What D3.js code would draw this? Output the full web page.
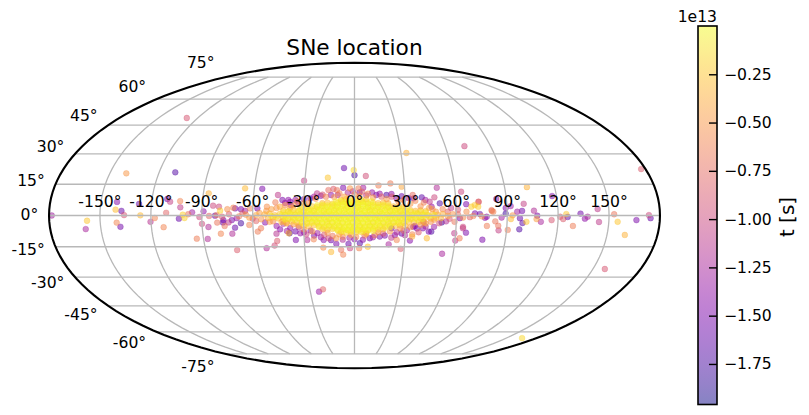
<!DOCTYPE html>
<html>
<head>
<meta charset="utf-8">
<script src="https://cdnjs.cloudflare.com/ajax/libs/d3/7.8.5/d3.min.js"></script>
<style>
  html, body { margin: 0; padding: 0; background: #fff; }
  svg { display: block; }
  text { font-family: "DejaVu Sans", sans-serif; fill: #000; }
  .grid { fill: none; stroke: #b8b8b8; stroke-width: 1.3; }
  .cbar .domain { display: none; }
  .cbar line { stroke: #000; stroke-width: 1.4; }
  .cbar text { font-size: 15.6px; font-family: "DejaVu Sans", sans-serif; }
</style>
</head>
<body>
<svg id="chart" width="809" height="415"></svg>
<script>
const TITLE = 'SNe location'
const CBAR_LABEL = 't [s]'
const CBAR_EXPONENT = '1e13'
const LON_TICKS = [-150, -120, -90, -60, -30, 0, 30, 60, 90, 120, 150]
const LAT_TICKS = [-75, -60, -45, -30, -15, 0, 15, 30, 45, 60, 75]
const CBAR_TICKS = [-0.25, -0.5, -0.75, -1, -1.25, -1.5, -1.75]
const T_DOMAIN = [-1.96, 0]

// [lon, lat, t in 1e13 s]
const sneFar = [
  [72.7,33.9,-1],[33.5,30.4,-.35],[-6.5,22.9,-1.6],[-.5,21.9,-.15],[0,19.4,-1.75],[6.9,19,-.95],
  [-16.2,18.2,-.25],[-30.5,16.7,-1.05],[14.4,14.4,-.65],[21.6,15.4,-.65],[28.3,13.8,-.4],[49.3,13.3,-1.2],
  [63.6,11.4,-1],[-65.5,13,-.3],[-55.2,12.8,-1.5],[-45.5,9.8,-1.1],[76.3,-11.6,-1.5],[53.3,-18.4,-1.25],
  [43.1,-10.9,-.3],[27.9,-16,-.85],[20.5,-13.8,-1.25],[8,-15,-.25],[-6.9,-18.8,-.6],[-14.2,-17.5,-.3],
  [-8.1,-16.5,-.7],[-18.8,-15.4,-.55],[-53,-15.7,-1.2],[-48,-14.4,-.95],[-46.2,-12.2,-.85],[-71,-16.6,-.85],
  [-87.5,-11.2,-1.2],[-24.1,-37.4,-1.35],[-21.2,-36.2,-.8],[165.6,-63.9,-.15],[-128.4,48.9,-.9],
  [-139.9,20.3,-.5],[-110.1,20.8,-1.7],[177.3,22.4,-.85],[157.5,-25.9,-.9],[160.6,-9.3,-.35]
]

const snePlaneWest = [
  [-178.4,0,-1.3],[-157.7,-2.5,-.25],[-159,-6.5,-1.25],[-140.5,6.5,-1.45],[-140.9,2.8,-.3],[-137.4,2.2,-1.6],
  [-135.8,.2,-.9],[-140.3,-3.4,-.6],[-138.3,-5.4,-1.55],[-127.3,5.5,-1.6],[-126.2,.1,-.3],[-120.3,-3,-1.15],
  [-117.7,-1.2,-.6],[-112.8,-5.6,-.6],[-111,1.3,-.8],[-111,7.9,-1.5],[-109.1,6.6,-1.05],[-103.2,6.9,-.6],
  [-102.8,3.9,-1.1],[-103.5,-1.5,-1.6],[-101.2,.4,-.2],[-100.2,-1.2,-.2],[-98,.6,-.7],[-95.7,1.5,-1.3],
  [-94,-11.1,-.65],[-89,2,-1.4],[-91.4,-.7,-1],[-90,-4,-1],[-86.3,-5.5,-1.2],[-86.8,10.6,-.35],[-85.7,-.2,-.8],
  [-83.5,4.7,-1],[-80,4.2,-1],[-81.2,.2,-.65],[-79.2,2.3,-.2],[-81,-3.4,-.7],[-76.7,-5,-.7],[-79.3,-8.7,-.6],
  [-70.6,-5.8,-1.6],[-72.5,-8.7,-1.2],[-77.3,-2.2,-1.5],[-75,3,-.55],[-70.4,3.4,-1.5],[-69.4,-1.3,-1.35],
  [-72.3,-2.2,-1.5],[-71.5,3.7,-.6],[-67,3,-1.5],[-82.2,-.1,-1.6],[-77.6,-3.3,-1.6],[-74.3,-3.3,-1.1],
  [-67,-3.7,-1.75],[-62.1,-4.5,-.6],[-57.3,-7.7,-.65],[-55.3,-6.1,-.65],[-52.7,-3.3,-1.45],[-46.3,-8.7,-1.15],
  [-61.6,3.4,-.6],[-57.3,3.4,-1.5],[-51.7,4.2,-.55],[-46.8,6.3,-.65],[-64,.4,-.5],[-60,-1.5,-.9],[-66,1,-.8],
  [-56,1.2,-.45],[-58,-2.6,-.8],[-62,-1,-.45],[-68,-.4,-.65],[-74,.6,-.85],[-78,-.6,-.9],[-64.5,2.2,-1.3]
]

const snePlaneEast = [
  [92.2,4.5,-1.3],[100,5.6,-1.05],[98.8,2.2,-1.55],[95.9,1.8,-1.3],[89.1,.9,-1.8],[81,2.2,-.7],[93.2,.1,-.5],
  [92.2,-1.7,-.3],[97.5,-1.3,-1.6],[99.1,-3.6,-1.65],[101.4,-3,-.25],[97.5,-6.6,-1.7],[90.7,-6.9,-.65],
  [84.9,-4.9,-.7],[83,-2.8,-.7],[103.4,13.6,-.35],[84,7.9,-1.35],[85.3,-7.1,-1.05],[86.7,-1,-1.3],[76.9,-1.1,-1.4],
  [73.9,.7,-1.6],[78.2,-5,-.65],[80.8,2.6,-.7],[73.5,6.5,-.8],[71,5,-.25],[89.2,3.6,-1.5],[105.8,2.3,-1.2],
  [107.7,-.1,-1.5],[107.3,-1.7,-.45],[109.9,-3,-1.25],[116.2,-2.2,-.9],[117.4,9.3,-1.5],[121.2,-.6,-.85],
  [123,-1.7,-.85],[125.6,-.7,-1.65],[124.8,.7,-.25],[129,-5,-.65],[133.2,.9,-1.55],[135.8,-1.5,-1.4],
  [137.4,-.6,-1.25],[143.4,3.1,-1.1],[144.2,-3.1,-1.1],[153,.6,-.7],[155.2,-3,-.25],[166.2,-2.2,-1.5],
  [173.5,.2,-1],[174.5,-1.3,-1.6],[66,5.4,-1.5],[73.3,6.6,-.85],[69,4.2,-.2],[73,4.2,-.2],[71,1,-1.5],[66,1.8,-.55],
  [62.1,-1.3,-1.5],[77.9,-.6,-1.4],[81.8,1.8,-.6],[64.1,-5.4,-1],[59.2,-8.5,-1.1],[62.6,-10.9,-.65],[60.2,-12,-1.1],
  [64.1,-6.1,-1.1],[66.1,-8.2,-1.5],[58,.6,-.5],[55,1.8,-.8],[61,.5,-.75],[68,-.8,-.8],[56,-1.6,-.9],[64,-1,-.55],
  [59,-3,-.7],[54,-2.8,-1.2],[70,-.2,-.6],[75,-.4,-.5],[52,3,-.6],[57,3.6,-1.1],[61,2.8,-.9]
]

const sneRim = [
  [-6.8,13.3,-1.5],[-2.7,13,-.5],[2.4,13,-.65],[5.2,13.3,-1.3],[-10.5,12.2,-.7],[-12.6,12.7,-.85],[-15.6,12.2,-.75],
  [-14,9.8,-1.4],[13,9.8,-1.5],[19,9.8,-1.7],[24.9,8.2,-1.5],[-22.3,10.6,-1.1],[-26.2,8.2,-1.4],[-42.7,7.4,-1.5],
  [-39.2,7.4,-1.4],[-37.6,5,-1.3],[39.9,8.7,-1.65],[34.6,9.8,-.75],[47.4,8.7,-1],[44.5,6.6,-1.1],[45.5,4.2,-1.35],
  [50.4,5.8,-1.7],[-30,7.8,-1.35],[-19,10,-.9],[-9,10.6,-.6],[-4,11,-1.2],[0,10.2,-.55],[4.5,11.4,-.8],[8,10.4,-.6],
  [10.5,11,-1.35],[16,9,-.8],[22,9,-.9],[29,7.5,-.7],[32,8.4,-1.35],[36,7,-.6],[41,6.2,-.65],[-34,6.8,-.7],[-27,6,-.6],
  [-23,8,-.55],[-17,9,-.6],[-12,8.8,-.5],[-6,9,-.45],[3,9.2,-.5],[11,8.6,-.5],[19,7.8,-.5],[26,6.6,-.5],[33,5.6,-.5],
  [39,4.4,-.55],[46,3,-.5],[-46,3.6,-.55],[-41,5,-.55],[-36,4.8,-.5],[-30,5.8,-.45],

  [-39,-8.5,-.3],[-38.5,-8.5,-1.8],[-35,-11.7,-1.5],[-32.1,-8.5,-1.35],[-28.6,-9,-1],[-28.2,-11.7,-1.2],[-24.3,-11.4,-.6],
  [-18.4,-11.7,-1.4],[-15.4,-10.9,-1],[-10.9,-10.9,-.5],[-10.9,-13.6,-1.5],[-2.7,-15.7,-1],[-3.6,-13.6,-1.6],[3.2,-13.3,-1.7],
  [2.8,-15.7,-.6],[9.1,-10.9,-1.5],[15,-10.1,-1.55],[21.9,-6.1,-1.6],[25.2,-11.7,-.6],[21.9,-10.6,-1.1],[33.1,-12,-1.45],
  [34.3,-10.1,-.35],[35.6,-5,-1.4],[40.5,-6.1,-1.45],[45.5,-7.7,-1.7],[44,-7.7,-1.5],[50,-3.7,-.95],[34.3,-9,-.6],
  [34.7,-5.4,-1.4],[40.6,-3,-1.35],[51.4,-3.3,-1.75],[-46,-5,-1.35],[-42,-4,-1.2],[-38,-6,-1.4],[-33,-5.5,-1.1],[-26,-7.2,-1.45],
  [-22,-8.4,-1.3],[-18,-9.2,-.9],[-13,-9.8,-.7],[-7,-10.2,-.6],[-3,-10.6,-1.3],[1,-10.2,-.55],[5,-11.6,-1.4],[6,-9.6,-.7],
  [12,-9.4,-.75],[17,-8.6,-.9],[25,-8,-1.2],[29,-7.2,-.8],[30,-9.4,-1.2],[38,-8,-.85],[-30,-6.6,-.55],[-25,-7.6,-.5],
  [-16,-8.2,-.5],[-9,-9,-.45],[-2,-9.2,-.45],[7,-8.8,-.5],[14,-8,-.5],[21,-7.6,-.5],[27,-6.2,-.55],[33,-5.6,-.5],[39,-4.4,-.55],
  [45,-3,-.55],[-36,-4.2,-.5],[-42,-2.6,-.5],[-48,-2.8,-.55],

  [-41,6,-1.35],[-38,6.5,-1.5],[-35,7.5,-1.4],[-33,5.8,-1.2],[-24,9,-1.3],[-20,9.4,-1.45],[-10,9.8,-1.25],[-1,11.6,-1.3],
  [3,11,-1.55],[7,9.6,-1.2],[15,10.4,-1.35],[22,10.3,-1.4],[28,9.2,-1.6],[35,8.2,-1.5],[42,7.4,-1.3],
  [-44,-6.6,-1.45],[-40,-7.4,-1.3],[-35,-7.6,-1.55],[-30,-8,-1.4],[-24,-9.6,-1.5],[-20,-10.4,-1.35],[-14,-11.8,-1.55],
  [-7,-11.6,-1.2],[0,-11.4,-1.45],[11,-10.4,-1.3],[18,-9.6,-1.5],[24,-9.4,-1.45],[28,-8.6,-1.6],[31,-7,-1.3],[37,-6.2,-1.5],
  [42,-5.2,-1.25],[47,-5.4,-1.35],
  [-52,2.2,-.5],[-49,3,-.45],[-55,-1.8,-.5],[-50,-3,-.45],[-44,4.2,-.4],[-38,3.6,-.45],[-40,-3.8,-.45],[-33,-4.8,-.4],
  [44,3.6,-.45],[48,1.8,-.5],[42,-3.8,-.5],[47,-2,-.5],[55,-.2,-.4],[-58,.2,-.4]
]

const sneBulge = [
  [-53,.5,-.35],[-50,.9,-.3],[-47,.2,-.35],[-44,.8,-.25],[-41,.3,-.3],[-38,1,-.2],[-35,.4,-.3],[-32,.7,-.2],[-29,.2,-.3],[-26,.9,-.15],
  [-23,.5,-.25],[-20,.3,-.15],[-17,.8,-.2],[-14,.4,-.15],[-11,.6,-.2],[-8,.2,-.1],[-5,.7,-.15],[-2,.5,-.1],[1,.3,-.15],[4,.8,-.1],
  [7,.4,-.2],[10,.6,-.15],[13,.2,-.2],[16,.9,-.15],[19,.5,-.25],[22,.3,-.2],[25,.8,-.15],[28,.4,-.3],[31,.6,-.2],[34,.2,-.3],
  [37,.9,-.25],[40,.5,-.3],[43,.3,-.3],[46,.7,-.35],[49,.4,-.35],[52,.6,-.35],
  [-51,-1.3,-.35],[-48,-.9,-.3],[-45,-1.4,-.3],[-42,-1,-.25],[-39,-1.5,-.3],[-36,-1.1,-.2],[-33,-1.3,-.25],[-30,-.9,-.2],[-27,-1.4,-.25],[-24,-1.1,-.15],
  [-21,-1.3,-.2],[-18,-.9,-.15],[-15,-1.5,-.2],[-12,-1.1,-.1],[-9,-1.3,-.15],[-6,-.9,-.1],[-3,-1.4,-.15],[0,-1.1,-.1],[3,-1.3,-.1],[6,-.9,-.15],
  [9,-1.5,-.1],[12,-1.1,-.2],[15,-1.3,-.15],[18,-.9,-.2],[21,-1.4,-.15],[24,-1.1,-.25],[27,-1.3,-.2],[30,-.9,-.25],[33,-1.5,-.3],[36,-1.1,-.25],
  [39,-1.3,-.3],[42,-.9,-.3],[45,-1.4,-.35],[48,-1.1,-.3],[51,-1.3,-.35],
  [-42,2.4,-.35],[-39,2.1,-.3],[-36,2.6,-.3],[-33,2.3,-.25],[-30,2,-.3],[-27,2.5,-.2],[-24,2.2,-.25],[-21,2.7,-.15],[-18,2.3,-.2],[-15,2,-.15],
  [-12,2.5,-.15],[-9,2.3,-.1],[-6,2.7,-.15],[-3,2.1,-.1],[0,2.4,-.1],[3,2.6,-.15],[6,2.2,-.1],[9,2.5,-.2],[12,2.3,-.15],[15,2,-.2],
  [18,2.6,-.15],[21,2.2,-.25],[24,2.5,-.2],[27,2.1,-.3],[30,2.4,-.25],[33,2.6,-.3],[36,2.2,-.35],[39,2.4,-.35],[42,2.1,-.35],
  [-43,-3.1,-.35],[-40,-3.4,-.35],[-37,-2.9,-.3],[-34,-3.3,-.3],[-31,-3,-.25],[-28,-3.5,-.25],[-25,-2.9,-.2],[-22,-3.2,-.2],[-19,-3.4,-.15],[-16,-3,-.2],
  [-13,-3.3,-.15],[-10,-2.9,-.1],[-7,-3.4,-.15],[-4,-3.1,-.1],[-1,-3.3,-.1],[2,-2.9,-.15],[5,-3.4,-.1],[8,-3.1,-.15],[11,-3.3,-.2],[14,-2.9,-.15],
  [17,-3.4,-.2],[20,-3,-.25],[23,-3.3,-.2],[26,-3.1,-.25],[29,-3.4,-.3],[32,-3,-.3],[35,-3.3,-.35],[38,-3,-.35],[41,-3.2,-.35],
  [-31,4.2,-.35],[-28,3.9,-.3],[-25,4.4,-.25],[-22,4.1,-.25],[-19,4.5,-.2],[-16,4,-.15],[-13,4.3,-.2],[-10,4.1,-.15],[-7,4.5,-.1],[-4,4,-.15],
  [-1,4.3,-.1],[2,4.1,-.15],[5,4.5,-.1],[8,4,-.2],[11,4.3,-.15],[14,4.1,-.2],[17,4.5,-.2],[20,4,-.25],[23,4.3,-.3],[26,4.1,-.3],[29,4.4,-.35],
  [-30,-4.9,-.35],[-27,-5.2,-.3],[-24,-4.7,-.3],[-21,-5,-.25],[-18,-5.3,-.2],[-15,-4.8,-.2],[-12,-5.1,-.15],[-9,-4.9,-.15],[-6,-5.3,-.1],[-3,-4.8,-.15],
  [0,-5.1,-.1],[3,-4.9,-.15],[6,-5.3,-.15],[9,-4.8,-.2],[12,-5.1,-.15],[15,-4.9,-.2],[18,-5.3,-.25],[21,-4.8,-.25],[24,-5,-.3],[27,-4.7,-.35],[30,-4.9,-.35],
  [-19,5.9,-.35],[-16,6.2,-.3],[-13,5.7,-.25],[-10,6,-.2],[-7,6.3,-.2],[-4,5.8,-.15],[-1,6.1,-.15],[2,5.9,-.15],[5,6.3,-.2],[8,5.8,-.2],[11,6.1,-.25],[14,5.9,-.3],[17,6.2,-.35],[20,5.8,-.35],
  [-19,-6.5,-.35],[-16,-6.8,-.3],[-13,-6.4,-.25],[-10,-6.7,-.2],[-7,-6.5,-.2],[-4,-6.9,-.15],[-1,-6.4,-.15],[2,-6.7,-.15],[5,-6.5,-.2],[8,-6.9,-.2],[11,-6.4,-.25],[14,-6.7,-.3],[17,-6.5,-.35],
  [-8,7.5,-.3],[-5,7.8,-.25],[-2,7.3,-.2],[1,7.6,-.25],[4,7.4,-.25],[7,7.8,-.3],
  [-8,-7.9,-.3],[-5,-8.2,-.25],[-2,-7.8,-.2],[1,-8.1,-.25],[4,-7.9,-.25],[7,-8.2,-.3]
]

// the youngest ones, they saturate the middle of the blob
const sneCore = [
  [-49,-.2,-.06],[-46,-.5,-.05],[-43,.1,-.06],[-40,-.3,-.04],[-37,.2,-.05],[-34,-.4,-.03],[-31,.1,-.04],[-28,-.3,-.03],[-25,.2,-.04],[-22,-.4,-.02],
  [-19,.1,-.03],[-16,-.3,-.02],[-13,.2,-.03],[-10,-.4,-.02],[-7,.1,-.03],[-4,-.3,-.02],[-1,.2,-.02],[2,-.4,-.03],[5,.1,-.02],[8,-.3,-.03],
  [11,.2,-.02],[14,-.4,-.03],[17,.1,-.02],[20,-.3,-.04],[23,.2,-.03],[26,-.4,-.04],[29,.1,-.03],[32,-.3,-.05],[35,.2,-.04],[38,-.4,-.05],[41,.1,-.06],[44,-.3,-.05],[47,.2,-.06],
  [-42,1.5,-.06],[-39,1.8,-.05],[-36,1.3,-.05],[-33,1.7,-.04],[-30,1.4,-.04],[-27,1.8,-.03],[-24,1.3,-.03],[-21,1.6,-.02],[-18,1.4,-.03],[-15,1.8,-.02],
  [-12,1.3,-.02],[-9,1.7,-.03],[-6,1.4,-.02],[-3,1.8,-.02],[0,1.3,-.02],[3,1.6,-.03],[6,1.4,-.02],[9,1.8,-.03],[12,1.3,-.02],[15,1.7,-.03],
  [18,1.4,-.02],[21,1.8,-.03],[24,1.3,-.03],[27,1.6,-.04],[30,1.4,-.04],[33,1.8,-.05],[36,1.3,-.05],[39,1.6,-.06],[42,1.4,-.06],
  [-41,-1.9,-.06],[-38,-1.6,-.05],[-35,-2.1,-.05],[-32,-1.7,-.04],[-29,-2,-.04],[-26,-1.6,-.03],[-23,-2.1,-.03],[-20,-1.8,-.02],[-17,-2,-.03],[-14,-1.6,-.02],
  [-11,-2.1,-.02],[-8,-1.7,-.03],[-5,-2,-.02],[-2,-1.6,-.02],[1,-2.1,-.02],[4,-1.8,-.03],[7,-2,-.02],[10,-1.6,-.03],[13,-2.1,-.02],[16,-1.7,-.03],
  [19,-2,-.02],[22,-1.6,-.03],[25,-2.1,-.03],[28,-1.8,-.04],[31,-2,-.04],[34,-1.6,-.05],[37,-2.1,-.05],[40,-1.7,-.06],
  [-32,3.2,-.06],[-29,3.5,-.05],[-26,3,-.04],[-23,3.4,-.04],[-20,3.1,-.03],[-17,3.5,-.03],[-14,3,-.02],[-11,3.3,-.03],[-8,3.1,-.02],[-5,3.5,-.02],
  [-2,3,-.02],[1,3.4,-.02],[4,3.1,-.03],[7,3.5,-.02],[10,3,-.03],[13,3.3,-.02],[16,3.1,-.03],[19,3.5,-.03],[22,3,-.04],[25,3.4,-.04],[28,3.1,-.05],[31,3.4,-.06],
  [-31,-3.6,-.06],[-28,-3.9,-.05],[-25,-3.5,-.04],[-22,-3.8,-.04],[-19,-3.6,-.03],[-16,-4,-.03],[-13,-3.5,-.02],[-10,-3.8,-.03],[-7,-3.6,-.02],[-4,-4,-.02],
  [-1,-3.5,-.02],[2,-3.8,-.02],[5,-3.6,-.03],[8,-4,-.02],[11,-3.5,-.03],[14,-3.8,-.02],[17,-3.6,-.03],[20,-4,-.03],[23,-3.5,-.04],[26,-3.8,-.04],[29,-3.6,-.06],
  [-22,4.9,-.06],[-19,5.2,-.05],[-16,4.8,-.04],[-13,5.1,-.03],[-10,4.9,-.03],[-7,5.3,-.02],[-4,4.8,-.02],[-1,5.1,-.02],[2,4.9,-.03],[5,5.3,-.02],[8,4.8,-.03],[11,5.1,-.03],[14,4.9,-.04],[17,5.2,-.05],[20,4.8,-.06],
  [-21,-5.6,-.06],[-18,-5.9,-.05],[-15,-5.5,-.04],[-12,-5.8,-.03],[-9,-5.6,-.03],[-6,-6,-.02],[-3,-5.5,-.02],[0,-5.8,-.02],[3,-5.6,-.03],[6,-6,-.02],[9,-5.5,-.03],[12,-5.8,-.03],[15,-5.6,-.04],[18,-5.9,-.05],[21,-5.5,-.06],
  [-11,6.6,-.06],[-8,6.9,-.04],[-5,6.5,-.03],[-2,6.8,-.03],[1,6.6,-.03],[4,6.9,-.04],[7,6.5,-.05],[10,6.8,-.06],
  [-10,-7.2,-.06],[-7,-7.5,-.04],[-4,-7.1,-.03],[-1,-7.4,-.03],[2,-7.2,-.03],[5,-7.5,-.04],[8,-7.1,-.05],[11,-7.4,-.06]
]

// Mollweide, as matplotlib draws it (d3 core has no such projection)
const mollweideRaw = (lambda, phi) => {
  let theta = phi
  if (Math.abs(Math.abs(phi) - Math.PI / 2) > 1e-9) {
    for (let i = 0; i < 30; i++) {
      theta -= (2 * theta + Math.sin(2 * theta) - Math.PI * Math.sin(phi)) / (2 + 2 * Math.cos(2 * theta))
    }
  }
  return [2 * Math.SQRT2 / Math.PI * lambda * Math.cos(theta), Math.SQRT2 * Math.sin(theta)]
}

const cx = 354.5
const cy = 215.5

const projection = d3.geoProjection(mollweideRaw)
  .scale(108)
  .translate([cx, cy])
  .precision(0.1)

const svg = d3.select('#chart')
const geoPath = d3.geoPath(projection)
const line = d3.line()

const clipId = 'globe-clip'
svg.append('clipPath').attr('id', clipId).append('path')
  .datum({type: 'Sphere'})
  .attr('d', geoPath)

// points, oldest first
const sne = [...sneBulge, ...sneRim, ...snePlaneWest, ...snePlaneEast, ...sneFar, ...sneCore]
  .sort((a, b) => d3.ascending(a[2], b[2]))

const colorT = d3.scaleSequential(d3.interpolatePlasma).domain(T_DOMAIN)

svg.append('g')
  .attr('clip-path', `url(#${clipId})`)
  .selectAll('circle')
  .data(sne)
  .join('circle')
  .attr('cx', d => projection([d[0], d[1]])[0])
  .attr('cy', d => projection([d[0], d[1]])[1])
  .attr('r', 2.9)
  .attr('fill', d => colorT(d[2]))
  .attr('fill-opacity', 0.5)
  .attr('stroke', d => colorT(d[2]))
  .attr('stroke-opacity', 0.3)
  .attr('stroke-width', 0.9)

// grid goes over the points
const grid = svg.append('g').attr('class', 'grid-lines')

LAT_TICKS.forEach(lat => {
  grid.append('path')
    .attr('class', 'grid')
    .attr('d', line(d3.range(-180, 180.5, 5).map(lon => projection([lon, lat]))))
})

LON_TICKS.forEach(lon => {
  grid.append('path')
    .attr('class', 'grid')
    .attr('d', line(d3.range(-75, 75.5, 2.5).map(lat => projection([lon, lat]))))
})

// outline
svg.append('path')
  .datum({type: 'Sphere'})
  .attr('d', geoPath)
  .attr('fill', 'none')
  .attr('stroke', '#000')
  .attr('stroke-width', 2.1)

// tick labels
svg.append('g').selectAll('text')
  .data(LON_TICKS)
  .join('text')
  .attr('x', d => projection([d, 0])[0])
  .attr('y', 207)
  .attr('text-anchor', 'middle')
  .attr('font-size', 15.6)
  .text(d => `${d}°`)

svg.append('g').selectAll('text')
  .data(LAT_TICKS)
  .join('text')
  .attr('x', d => projection([-180, d])[0] - 10.7)
  .attr('y', d => {
    const y = projection([-180, d])[1]
    return y + (y - cy) * 0.1 - 1
  })
  .attr('dy', '0.36em')
  .attr('text-anchor', 'end')
  .attr('font-size', 15.6)
  .text(d => `${d}°`)

svg.append('text')
  .attr('x', cx)
  .attr('y', 55)
  .attr('text-anchor', 'middle')
  .attr('font-size', 21.7)
  .text(TITLE)

// colorbar
const barX = 698
const barW = 19
const barTop = 26
const barBottom = 404.5

const yT = d3.scaleLinear().domain(T_DOMAIN).range([barBottom, barTop])

const defs = svg.append('defs')
const grad = defs.append('linearGradient')
  .attr('id', 'cbar-grad')
  .attr('x1', 0).attr('x2', 0).attr('y1', 1).attr('y2', 0)
grad.selectAll('stop')
  .data(d3.range(0, 1.001, 0.05))
  .join('stop')
  .attr('offset', d => d)
  .attr('stop-color', d => d3.interpolatePlasma(d))
  .attr('stop-opacity', 0.5)

svg.append('rect')
  .attr('x', barX)
  .attr('y', barTop)
  .attr('width', barW)
  .attr('height', barBottom - barTop)
  .attr('fill', 'url(#cbar-grad)')

svg.append('g')
  .attr('class', 'cbar')
  .attr('transform', `translate(${barX + barW},0)`)
  .call(d3.axisRight(yT).tickValues(CBAR_TICKS).tickFormat(d3.format('.2f')).tickSize(-8).tickPadding(7))

svg.append('rect')
  .attr('x', barX)
  .attr('y', barTop)
  .attr('width', barW)
  .attr('height', barBottom - barTop)
  .attr('fill', 'none')
  .attr('stroke', '#000')
  .attr('stroke-width', 1.6)

svg.append('text')
  .attr('x', barX + barW)
  .attr('y', 22)
  .attr('text-anchor', 'end')
  .attr('font-size', 15.6)
  .text(CBAR_EXPONENT)

svg.append('text')
  .attr('transform', 'translate(794,217) rotate(-90)')
  .attr('text-anchor', 'middle')
  .attr('font-size', 20)
  .text(CBAR_LABEL)
</script>
</body>
</html>
